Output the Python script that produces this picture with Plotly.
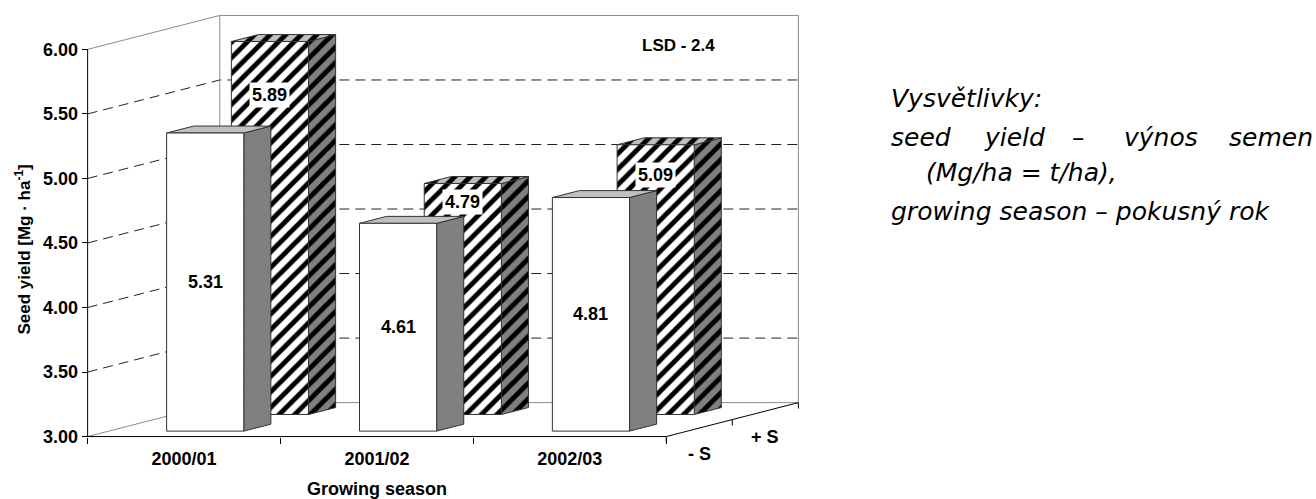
import plotly.graph_objects as go

# ---- data -------------------------------------------------------------
seasons = ["2000/01", "2001/02", "2002/03"]
treatments = ["- S", "+ S"]
yield_minus_s = [5.31, 4.61, 4.81]   # Mg/ha, without sulphur
yield_plus_s = [5.89, 4.79, 5.09]    # Mg/ha, with sulphur
y_ticks = [3.0, 3.5, 4.0, 4.5, 5.0, 5.5, 6.0]
lsd_note = "LSD - 2.4"

# ---- geometry of the oblique 3-D box (data units) ----------------------
Y_MIN, Y_MAX = 3.0, 6.0
DX, DY = 0.685, 0.263          # screen shift produced by unit depth
BAR_W, BAR_D = 0.40, 0.205     # bar width (categories) and depth
ROW_FRONT = [0.16, 0.65]       # front depth of the "- S" and "+ S" rows
N = len(seasons)

W, H = 1316, 499
CW, VH = 192.67, 129.33        # pixels per category / per value unit
ORIGIN_X, ORIGIN_Y = 88, 437   # pixel position of (0, Y_MIN)
PAD = 0.05

x_range = [-PAD, N + DX + PAD]
y_range = [Y_MIN - PAD, Y_MAX + DY + PAD]
pw = (x_range[1] - x_range[0]) * CW
ph = (y_range[1] - y_range[0]) * VH
ml = ORIGIN_X - PAD * CW
mb = H - ORIGIN_Y - PAD * VH
mr = W - ml - pw
mt = H - mb - ph

FONT = "Liberation Sans, Arial, sans-serif"
EDGE = "#333333"
GRID = "#222222"
WALL = "#8c8c8c"
SIDE = "#808080"
TOP = "#c0c0c0"
TICK = 6 / VH


def proj(x, v, z):
    return x + z * DX, v + z * DY


def paper_x(px):
    return (px - ml) / pw


def paper_y(py):
    return ((H - mb) - py) / ph


fig = go.Figure()


def line(pts, color, width=1, dash=None):
    fig.add_trace(go.Scatter(
        x=[p[0] for p in pts], y=[p[1] for p in pts], mode="lines",
        line=dict(color=color, width=width, dash=dash),
        hoverinfo="skip", showlegend=False))


def face(pts, fill, pattern=None):
    xs = [p[0] for p in pts] + [pts[0][0]]
    ys = [p[1] for p in pts] + [pts[0][1]]
    kw = dict(x=xs, y=ys, mode="lines", fill="toself", fillcolor=fill,
              line=dict(color=EDGE, width=1), hoverinfo="skip",
              showlegend=False)
    if pattern is not None:
        kw["fillpattern"] = pattern
    fig.add_trace(go.Scatter(**kw))


# ---- walls and gridlines ----------------------------------------------
for v in y_ticks[1:-1]:
    line([proj(0, v, 0), proj(0, v, 1), proj(N, v, 1)], GRID, 1, "10px,6px")

line([proj(0, Y_MAX, 0), proj(0, Y_MAX, 1)], WALL)
line([proj(0, Y_MIN, 0), proj(0, Y_MIN, 1)], WALL)
line([proj(0, Y_MIN, 1), proj(N, Y_MIN, 1), proj(N, Y_MAX, 1),
      proj(0, Y_MAX, 1), proj(0, Y_MIN, 1)], WALL)

# ---- axes lines ---------------------------------------------------------
line([(0, Y_MIN), (0, Y_MAX)], "black")
line([proj(0, Y_MIN, 0), proj(N, Y_MIN, 0), proj(N, Y_MIN, 1)], "black")
for z in (0.0, 0.5, 1.0):
    bx, by = proj(N, Y_MIN, z)
    line([(bx, by), (bx, by - TICK)], "black")

# ---- bars ---------------------------------------------------------------
stripe_front = dict(shape="/", bgcolor="white", fgcolor="black",
                    size=11, solidity=0.45, fillmode="replace")
stripe_side = dict(shape="/", bgcolor=SIDE, fgcolor="black",
                   size=11, solidity=0.45, fillmode="replace")
stripe_top = dict(shape="/", bgcolor=TOP, fgcolor="black",
                  size=11, solidity=0.45, fillmode="replace")


def bar(i, v, row, hatched):
    zf = ROW_FRONT[row]
    zb = zf + BAR_D
    x0 = i + 0.5 - BAR_W / 2
    x1 = i + 0.5 + BAR_W / 2
    front = [proj(x0, Y_MIN, zf), proj(x1, Y_MIN, zf),
             proj(x1, v, zf), proj(x0, v, zf)]
    side = [proj(x1, Y_MIN, zf), proj(x1, Y_MIN, zb),
            proj(x1, v, zb), proj(x1, v, zf)]
    top = [proj(x0, v, zf), proj(x1, v, zf), proj(x1, v, zb), proj(x0, v, zb)]
    if hatched:
        face(side, SIDE, stripe_side)
        face(top, TOP, stripe_top)
        face(front, "white", stripe_front)
    else:
        face(side, SIDE)
        face(top, TOP)
        face(front, "white")


for i, v in enumerate(yield_plus_s):
    bar(i, v, 1, True)
for i, v in enumerate(yield_minus_s):
    bar(i, v, 0, False)

# ---- annotations --------------------------------------------------------
annotations = []
label_font = dict(family=FONT, size=18, color="black", weight="bold")

for i, v in enumerate(yield_minus_s):
    zf = ROW_FRONT[0]
    cx, cy = proj(i + 0.5, (Y_MIN + v) / 2, zf)
    annotations.append(dict(x=cx, y=cy, xref="x", yref="y", text=f"{v:.2f}",
                            xanchor="center", yanchor="middle",
                            showarrow=False, font=label_font))

plus_label_drop = [53, 19, 30]   # px below the top edge of the front face
for i, v in enumerate(yield_plus_s):
    zf = ROW_FRONT[1]
    cx, cy = proj(i + 0.5, v, zf)
    annotations.append(dict(x=cx, y=cy, xref="x", yref="y", text=f"{v:.2f}",
                            xanchor="center", yanchor="middle",
                            yshift=-plus_label_drop[i], showarrow=False,
                            bgcolor="white", borderpad=2, font=label_font))

# depth-axis labels
for k, name in enumerate(treatments):
    dx, dy = proj(N, Y_MIN, 0.25 + 0.5 * k)
    annotations.append(dict(x=dx, y=dy, xref="x", yref="y", text=f"<b>{name}</b>",
                            xanchor="center", yanchor="middle",
                            yshift=-26, showarrow=False,
                            font=dict(family=FONT, size=18, color="black")))


def centered(px, py, text, size, angle=0):
    annotations.append(dict(x=paper_x(px), y=paper_y(py), xref="paper", yref="paper",
                            xanchor="center", yanchor="middle", text=text,
                            textangle=angle, showarrow=False,
                            font=dict(family=FONT, size=size, color="black")))


centered(678, 45, f"<b>{lsd_note}</b>", 17)
centered(377, 490, "<b>Growing season</b>", 18)
centered(23, 250, "<b>Seed yield [Mg · ha<sup>-1</sup>]</b>", 17, -90)

# explanatory note on the right
note_font = dict(family="DejaVu Sans", size=25, color="black", style="italic")


def note(px, py, text):
    annotations.append(dict(x=paper_x(px), y=paper_y(py), xref="paper", yref="paper",
                            xanchor="left", yanchor="middle", text=text,
                            showarrow=False, font=note_font))


note(889, 98, "Vysvětlivky:")
for px, word in [(889, "seed"), (981, "yield"), (1069, "–"),
                 (1121, "výnos"), (1226, "semen")]:
    note(px, 137, word)
note(924, 172, "(Mg/ha = t/ha),")
note(889, 211, "growing season – pokusný rok")

fig.update_layout(
    width=W, height=H,
    margin=dict(l=ml, r=mr, t=mt, b=mb, pad=0),
    paper_bgcolor="white", plot_bgcolor="white",
    showlegend=False,
    annotations=annotations,
    xaxis=dict(range=x_range, showgrid=False, zeroline=False, showline=False,
               anchor="free", position=paper_y(ORIGIN_Y),
               tickmode="array", tickvals=[i + 0.5 for i in range(N)],
               ticktext=seasons, ticks="outside", ticklen=6,
               tickcolor="rgba(0,0,0,0)",
               tickfont=dict(family=FONT, size=18, color="black", weight="bold"),
               minor=dict(tickmode="array", tickvals=list(range(N + 1)),
                          ticks="outside", ticklen=6, tickcolor="black",
                          tickwidth=1, showgrid=False),
               fixedrange=True),
    yaxis=dict(range=y_range, showgrid=False, zeroline=False, showline=False,
               anchor="free", position=paper_x(ORIGIN_X),
               tickmode="array", tickvals=y_ticks,
               ticktext=[f"{t:.2f}" for t in y_ticks],
               ticks="outside", ticklen=6, tickcolor="black", tickwidth=1,
               tickfont=dict(family=FONT, size=18, color="black", weight="bold"),
               fixedrange=True),
)

fig.write_html("out.html")
